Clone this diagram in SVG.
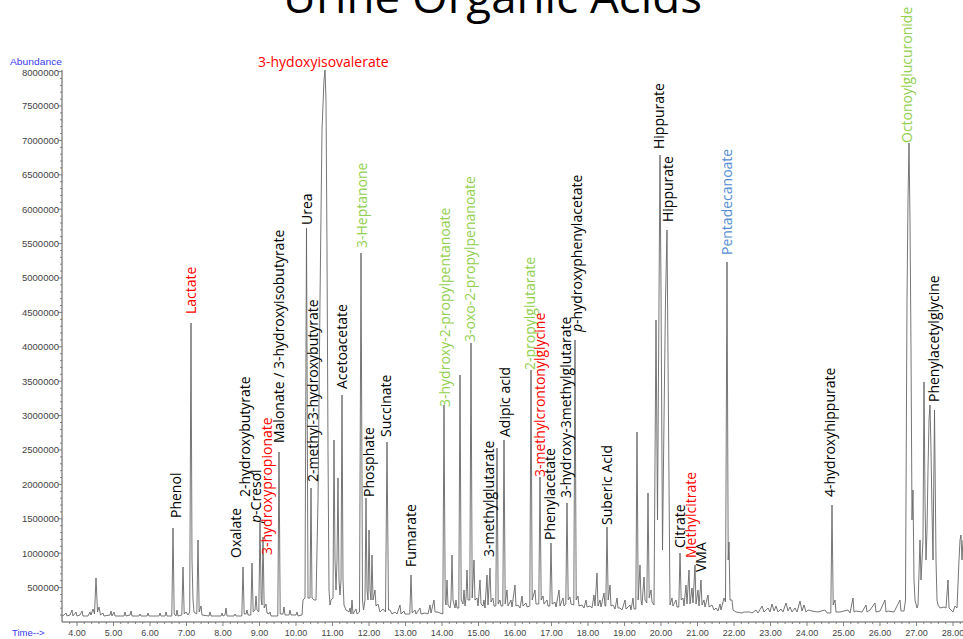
<svg xmlns="http://www.w3.org/2000/svg" width="963" height="639" viewBox="0 0 963 639">
<style>
.lbl{font-family:"Open Sans","Liberation Sans",sans-serif;font-size:14px;fill:#000}
.red{fill:#FF0000}
.grn{fill:#92D050}
.blu{fill:#558ED5}
.ytl{font-family:"Liberation Sans",Arial,sans-serif;font-size:9.5px;fill:#444;text-anchor:end}
.xtl{font-family:"Liberation Sans",Arial,sans-serif;font-size:9px;fill:#444;text-anchor:middle}
.ax{stroke:#555;stroke-width:1;fill:none}
.tk{stroke:#666;stroke-width:0.8;fill:none}
.trace{stroke:#666;stroke-width:0.9;fill:none;stroke-linejoin:round}
</style>
<rect width="963" height="639" fill="#fff"/>
<g id="title">
<text x="283" y="13" font-family="'Open Sans','Liberation Sans',sans-serif" font-size="43" textLength="419" lengthAdjust="spacingAndGlyphs" fill="#000">Urine Organic Acids</text>
</g>
<g id="axes">
<text x="10" y="64.5" font-family="'Liberation Sans',Arial,sans-serif" font-size="8.5" fill="#3a3af0" textLength="52" lengthAdjust="spacingAndGlyphs">Abundance</text>
<text x="12" y="636" font-family="'Liberation Sans',Arial,sans-serif" font-size="9.5" fill="#3a3af0">Time--&gt;</text>
<path class="ax" d="M62,70 V622 H963"/>
<path class="tk" d="M58,71.6H62M58,106H62M58,140.4H62M58,174.8H62M58,209.2H62M58,243.6H62M58,278H62M58,312.4H62M58,346.8H62M58,381.2H62M58,415.6H62M58,450H62M58,484.4H62M58,518.8H62M58,553.2H62M58,587.6H62"/>
<path class="tk" d="M60,78.5H62M60,85.4H62M60,92.2H62M60,99.1H62M60,112.9H62M60,119.8H62M60,126.6H62M60,133.5H62M60,147.3H62M60,154.2H62M60,161H62M60,167.9H62M60,181.7H62M60,188.6H62M60,195.4H62M60,202.3H62M60,216.1H62M60,223H62M60,229.8H62M60,236.7H62M60,250.5H62M60,257.4H62M60,264.2H62M60,271.1H62M60,284.9H62M60,291.8H62M60,298.6H62M60,305.5H62M60,319.3H62M60,326.2H62M60,333H62M60,339.9H62M60,353.7H62M60,360.6H62M60,367.4H62M60,374.3H62M60,388.1H62M60,395H62M60,401.8H62M60,408.7H62M60,422.5H62M60,429.4H62M60,436.2H62M60,443.1H62M60,456.9H62M60,463.8H62M60,470.6H62M60,477.5H62M60,491.3H62M60,498.2H62M60,505H62M60,511.9H62M60,525.7H62M60,532.6H62M60,539.4H62M60,546.3H62M60,560.1H62M60,567H62M60,573.8H62M60,580.7H62M60,594.5H62M60,601.4H62M60,608.2H62M60,615.1H62"/>
<text class="ytl" x="59" y="75.5">8000000</text>
<text class="ytl" x="59" y="109.4">7500000</text>
<text class="ytl" x="59" y="143.8">7000000</text>
<text class="ytl" x="59" y="178.2">6500000</text>
<text class="ytl" x="59" y="212.6">6000000</text>
<text class="ytl" x="59" y="247">5500000</text>
<text class="ytl" x="59" y="281.4">5000000</text>
<text class="ytl" x="59" y="315.8">4500000</text>
<text class="ytl" x="59" y="350.2">4000000</text>
<text class="ytl" x="59" y="384.6">3500000</text>
<text class="ytl" x="59" y="419">3000000</text>
<text class="ytl" x="59" y="453.4">2500000</text>
<text class="ytl" x="59" y="487.8">2000000</text>
<text class="ytl" x="59" y="522.2">1500000</text>
<text class="ytl" x="59" y="556.6">1000000</text>
<text class="ytl" x="59" y="591">500000</text>
<path class="tk" d="M77,622v4M113.5,622v4M150,622v4M186.5,622v4M223,622v4M259.5,622v4M296,622v4M332.5,622v4M369,622v4M405.5,622v4M442,622v4M478.5,622v4M515,622v4M551.5,622v4M588,622v4M624.5,622v4M661,622v4M697.5,622v4M734,622v4M770.5,622v4M807,622v4M843.5,622v4M880,622v4M916.5,622v4M953,622v4"/>
<path class="tk" d="M69.7,622v2M84.3,622v2M91.6,622v2M98.9,622v2M106.2,622v2M120.8,622v2M128.1,622v2M135.4,622v2M142.7,622v2M157.3,622v2M164.6,622v2M171.9,622v2M179.2,622v2M193.8,622v2M201.1,622v2M208.4,622v2M215.7,622v2M230.3,622v2M237.6,622v2M244.9,622v2M252.2,622v2M266.8,622v2M274.1,622v2M281.4,622v2M288.7,622v2M303.3,622v2M310.6,622v2M317.9,622v2M325.2,622v2M339.8,622v2M347.1,622v2M354.4,622v2M361.7,622v2M376.3,622v2M383.6,622v2M390.9,622v2M398.2,622v2M412.8,622v2M420.1,622v2M427.4,622v2M434.7,622v2M449.3,622v2M456.6,622v2M463.9,622v2M471.2,622v2M485.8,622v2M493.1,622v2M500.4,622v2M507.7,622v2M522.3,622v2M529.6,622v2M536.9,622v2M544.2,622v2M558.8,622v2M566.1,622v2M573.4,622v2M580.7,622v2M595.3,622v2M602.6,622v2M609.9,622v2M617.2,622v2M631.8,622v2M639.1,622v2M646.4,622v2M653.7,622v2M668.3,622v2M675.6,622v2M682.9,622v2M690.2,622v2M704.8,622v2M712.1,622v2M719.4,622v2M726.7,622v2M741.3,622v2M748.6,622v2M755.9,622v2M763.2,622v2M777.8,622v2M785.1,622v2M792.4,622v2M799.7,622v2M814.3,622v2M821.6,622v2M828.9,622v2M836.2,622v2M850.8,622v2M858.1,622v2M865.4,622v2M872.7,622v2M887.3,622v2M894.6,622v2M901.9,622v2M909.2,622v2M923.8,622v2M931.1,622v2M938.4,622v2M945.7,622v2M960.3,622v2"/>
<text class="xtl" x="77" y="636">4.00</text>
<text class="xtl" x="113.5" y="636">5.00</text>
<text class="xtl" x="150" y="636">6.00</text>
<text class="xtl" x="186.5" y="636">7.00</text>
<text class="xtl" x="223" y="636">8.00</text>
<text class="xtl" x="259.5" y="636">9.00</text>
<text class="xtl" x="296" y="636">10.00</text>
<text class="xtl" x="332.5" y="636">11.00</text>
<text class="xtl" x="369" y="636">12.00</text>
<text class="xtl" x="405.5" y="636">13.00</text>
<text class="xtl" x="442" y="636">14.00</text>
<text class="xtl" x="478.5" y="636">15.00</text>
<text class="xtl" x="515" y="636">16.00</text>
<text class="xtl" x="551.5" y="636">17.00</text>
<text class="xtl" x="588" y="636">18.00</text>
<text class="xtl" x="624.5" y="636">19.00</text>
<text class="xtl" x="661" y="636">20.00</text>
<text class="xtl" x="697.5" y="636">21.00</text>
<text class="xtl" x="734" y="636">22.00</text>
<text class="xtl" x="770.5" y="636">23.00</text>
<text class="xtl" x="807" y="636">24.00</text>
<text class="xtl" x="843.5" y="636">25.00</text>
<text class="xtl" x="880" y="636">26.00</text>
<text class="xtl" x="916.5" y="636">27.00</text>
<text class="xtl" x="953" y="636">28.00</text>
</g>
<g id="connectors">
<path id="trace" class="trace" d="M62,616 L64,615 66,613 67,616 70,615 72,610 73,616 76,612 77,616 80,615 82,611 83,616 88,616 90,612 91,615 93,609 94.5,614 96,578 97.5,612 99,607 100.5,615 103,613 104,616 110,615 111,611 112,616 114,612 115,616 124,616 125,612 126,616 130,615 131,611 132,616 139,616 140,614 141,616 147,616 148,613 149,616 159,616 160,613 161,616 165,616 166,612 167,616 171.8,616 173,528 174.2,614 176,616 177,610 178,616 181.8,615 183,567 184.2,614 186,612 188,615 189.7,612 191,323 192,560 193,600 194,612 196.8,614 198,540 199.2,612 201,606 202,615 209,616 210,612 211,616 221,616 222,613 223,616 225,615 226,608 227,616 234,616 235,614 236,616 241.8,616 243,567 244.2,614 246,614 247,610 248,615 250.8,615 252,563 253.2,612 255,610 256,596 257,610 258.8,612 260,523 261.2,600 262,605 263,537 264.2,608 266,604 267,613 269,614 270,612 271,616 277.8,616 279,452 280.2,614 283,614 284,607 285,615 289,615 290,610 291,615 296,615 297,612 298,616 302,615 303,600 305,598 306.5,228 308,598 310,598 311,488 312,598 314,600 316,600 318,500 320,300 322,130 324,80 325,70 326,100 327,250 328,450 329,590 330,605 331,600 333,598 334,440 335,560 336,590 337,560 338,478 339,580 340,595 341,580 342,395 343,580 344,605 346,610 349,612 350,608 351,614 352,600 353,614 356,609 357,614 359.5,612 361,253 362.5,600 363.5,610 365,600 366,498 367,590 368,600 369,530 370,590 371,600 372,555 373,600 375,590 376,606 378,604 380,612 383,609 385.5,612 387,442 388.5,610 390,610 392,614 395,612 397,614 400,605 401,614 404,611 405,614 409.8,614 411,575 412.2,613 415,610 416,614 420,608 421,614 425,613 428,614 430,605 431,613 434,600 435,612 437,612 440,613 442.8,614 444,405 445.2,600 446,605 447,580 448,605 450,608 451,600 452,555 453,600 455,608 456,600 457,608 458.8,608 460,375 461.2,600 463,604 464,590 465,606 466,598 467,570 468,600 469.8,600 471,343 472.2,598 474,560 475,600 477,598 478,606 480,580 481,604 483,606 484,600 485,608 487,575 488,605 490,568 491,602 493,598 494,606 495.8,606 497,448 498.2,604 500,600 501,606 502.8,606 504,440 505.2,604 507,590 508,606 511,600 512,607 515,585 516,606 518,605 520,608 522,596 523,606 526,603 527,607 529.8,606 531,370 532.2,600 535,590 536,604 538.8,604 540,477 541.2,600 543,596 544,604 547,600 548,606 549.8,606 551,543 552.2,604 555,602 556,607 559,590 560,606 563,598 564,606 565.8,604 567,503 568.2,600 570,597 571,604 573.8,605 575,340 576.2,600 578,596 579,606 582,605 584,608 586,600 587,607 590,606 592,608 594,595 595,606 597,573 598,606 600,600 601,607 604,593 605,606 605.8,606 607,527 608.2,600 610,585 611,606 613,605 615,609 617,598 618,608 620,608 622,610 625,600 626,609 630,605 631,610 633,598 634,609 635.8,609 637,432 638.2,600 640,565 641,600 642,605 644,577 645,600 646.8,603 648,493 649.2,598 651,590 652,602 654,605 656,320 657.5,520 659,300 660,155 661,290 662.5,550 664,420 665.5,300 667,230 668.5,420 670,605 672,598 673,606 676,600 677,607 678.8,607 680,553 681.2,600 683,598 684,606 686,585 687,604 689,570 690,604 692,588 693,603 695,565 696,604 698,590 699,606 701,580 702,605 704,600 705,607 708,595 709,607 712,605 714,610 716,608 718,611 720,604 721,610 724,598 725.5,602 727,262 728.2,560 729,542 730,600 732,600 733,610 736,612 742,613 744,612 750,612 752,613 756,610 758,613 762,606 764,612 768,608 770,612 772,604 774,611 776,606 778,612 781,609 783,612 786,603 788,611 790,607 792,612 795,608 797,612 800,601 802,611 804,605 806,612 808,610 812,611 818,612 825,610 827,613 830.8,613 832,505 833.2,605 835,600 836,612 840,612 848,610 850,613 853,598 854,612 856,611 862,612 866,605 867,612 870,610 875,603 876,612 880,611 885,600 886,612 888,611 894,612 900,600 901,611 904,611 905.5,600 907,300 908,200 909,143 910,220 911,350 912,520 913,490 914,580 915,600 917,608 918,605 920,540 921,580 922,560 923,540 924,382 925,500 926,560 927,530 928,470 929,420 930,405 931,450 932,510 933,560 934.5,410 936,560 937,600 938,605 940,608 944,607 946,608 948,580 949,608 951,610 953,612 955,606 957,608 959,560 960,540 961,535 962,560 963,540"/>
</g>
<g id="labels">
<g id="n-3hiv"><text class="lbl red" x="258" y="67" font-size="13.2">3-hydoxyisovalerate</text></g>
<g id="n-phenol"><text class="lbl" transform="translate(181,518) rotate(-90)">Phenol</text></g>
<g id="n-lactate"><text class="lbl red" transform="translate(196,314) rotate(-90)">Lactate</text></g>
<g id="n-oxalate"><text class="lbl" transform="translate(241,558) rotate(-90)">Oxalate</text></g>
<g id="n-2hb"><text class="lbl" transform="translate(250,497) rotate(-90)">2-hydroxybutyrate</text></g>
<g id="n-pcresol"><text class="lbl" transform="translate(261,523) rotate(-90)"><tspan font-style="italic">p</tspan>-Cresol</text></g>
<g id="n-3hp"><text class="lbl red" transform="translate(272,555) rotate(-90)">3-hydroxypropionate</text></g>
<g id="n-malonate"><text class="lbl" transform="translate(284,443) rotate(-90)">Malonate / 3-hydroxyisobutyrate</text></g>
<g id="n-urea"><text class="lbl" transform="translate(312,225) rotate(-90)">Urea</text></g>
<g id="n-2m3hb"><text class="lbl" transform="translate(318,482) rotate(-90)">2-methyl-3-hydroxybutyrate</text></g>
<g id="n-acetoacetate"><text class="lbl" transform="translate(347,389) rotate(-90)">Acetoacetate</text></g>
<g id="n-heptanone"><text class="lbl grn" transform="translate(367,248) rotate(-90)">3-Heptanone</text></g>
<g id="n-phosphate"><text class="lbl" transform="translate(374,497) rotate(-90)">Phosphate</text></g>
<g id="n-succinate"><text class="lbl" transform="translate(391,437) rotate(-90)">Succinate</text></g>
<g id="n-fumarate"><text class="lbl" transform="translate(416,567) rotate(-90)">Fumarate</text></g>
<g id="n-3h2pp"><text class="lbl grn" transform="translate(450,407) rotate(-90)">3-hydroxy-2-propylpentanoate</text></g>
<g id="n-3o2pp"><text class="lbl grn" transform="translate(475,342) rotate(-90)">3-oxo-2-propylpenanoate</text></g>
<g id="n-3mg"><text class="lbl" transform="translate(494,557) rotate(-90)">3-methylglutarate</text></g>
<g id="n-adipic"><text class="lbl" transform="translate(510,437) rotate(-90)">Adipic acid</text></g>
<g id="n-2pg"><text class="lbl grn" transform="translate(535,370) rotate(-90)">2-propylglutarate</text></g>
<g id="n-3mcg"><text class="lbl red" transform="translate(545,477) rotate(-90)">3-methylcrontonylglycine</text></g>
<g id="n-phenylacetate"><text class="lbl" transform="translate(555,540) rotate(-90)">Phenylacetate</text></g>
<g id="n-hmg"><text class="lbl" transform="translate(571,498) rotate(-90)">3-hydroxy-3methylglutarate</text></g>
<g id="n-phpa"><text class="lbl" transform="translate(582,332) rotate(-90)"><tspan font-style="italic">p</tspan>-hydroxyphenylacetate</text></g>
<g id="n-suberic"><text class="lbl" transform="translate(612,525) rotate(-90)">Suberic Acid</text></g>
<g id="n-hippurate1"><text class="lbl" transform="translate(664,149) rotate(-90)">Hippurate</text></g>
<g id="n-hippurate2"><text class="lbl" transform="translate(673,222) rotate(-90)">Hippurate</text></g>
<g id="n-pentadecanoate"><text class="lbl blu" transform="translate(732,255) rotate(-90)">Pentadecanoate</text></g>
<g id="n-citrate"><text class="lbl" transform="translate(685,548) rotate(-90)">Citrate</text></g>
<g id="n-methylcitrate"><text class="lbl red" transform="translate(696,558) rotate(-90)">Methylcitrate</text></g>
<g id="n-vma"><text class="lbl" transform="translate(706,572) rotate(-90)">VMA</text></g>
<g id="n-4hh"><text class="lbl" transform="translate(835,497) rotate(-90)">4-hydroxyhippurate</text></g>
<g id="n-octonoyl"><text class="lbl grn" transform="translate(912,143) rotate(-90)">Octonoylglucuronide</text></g>
<g id="n-pag"><text class="lbl" transform="translate(939,402) rotate(-90)">Phenylacetylglycine</text></g>
</g>
</svg>
